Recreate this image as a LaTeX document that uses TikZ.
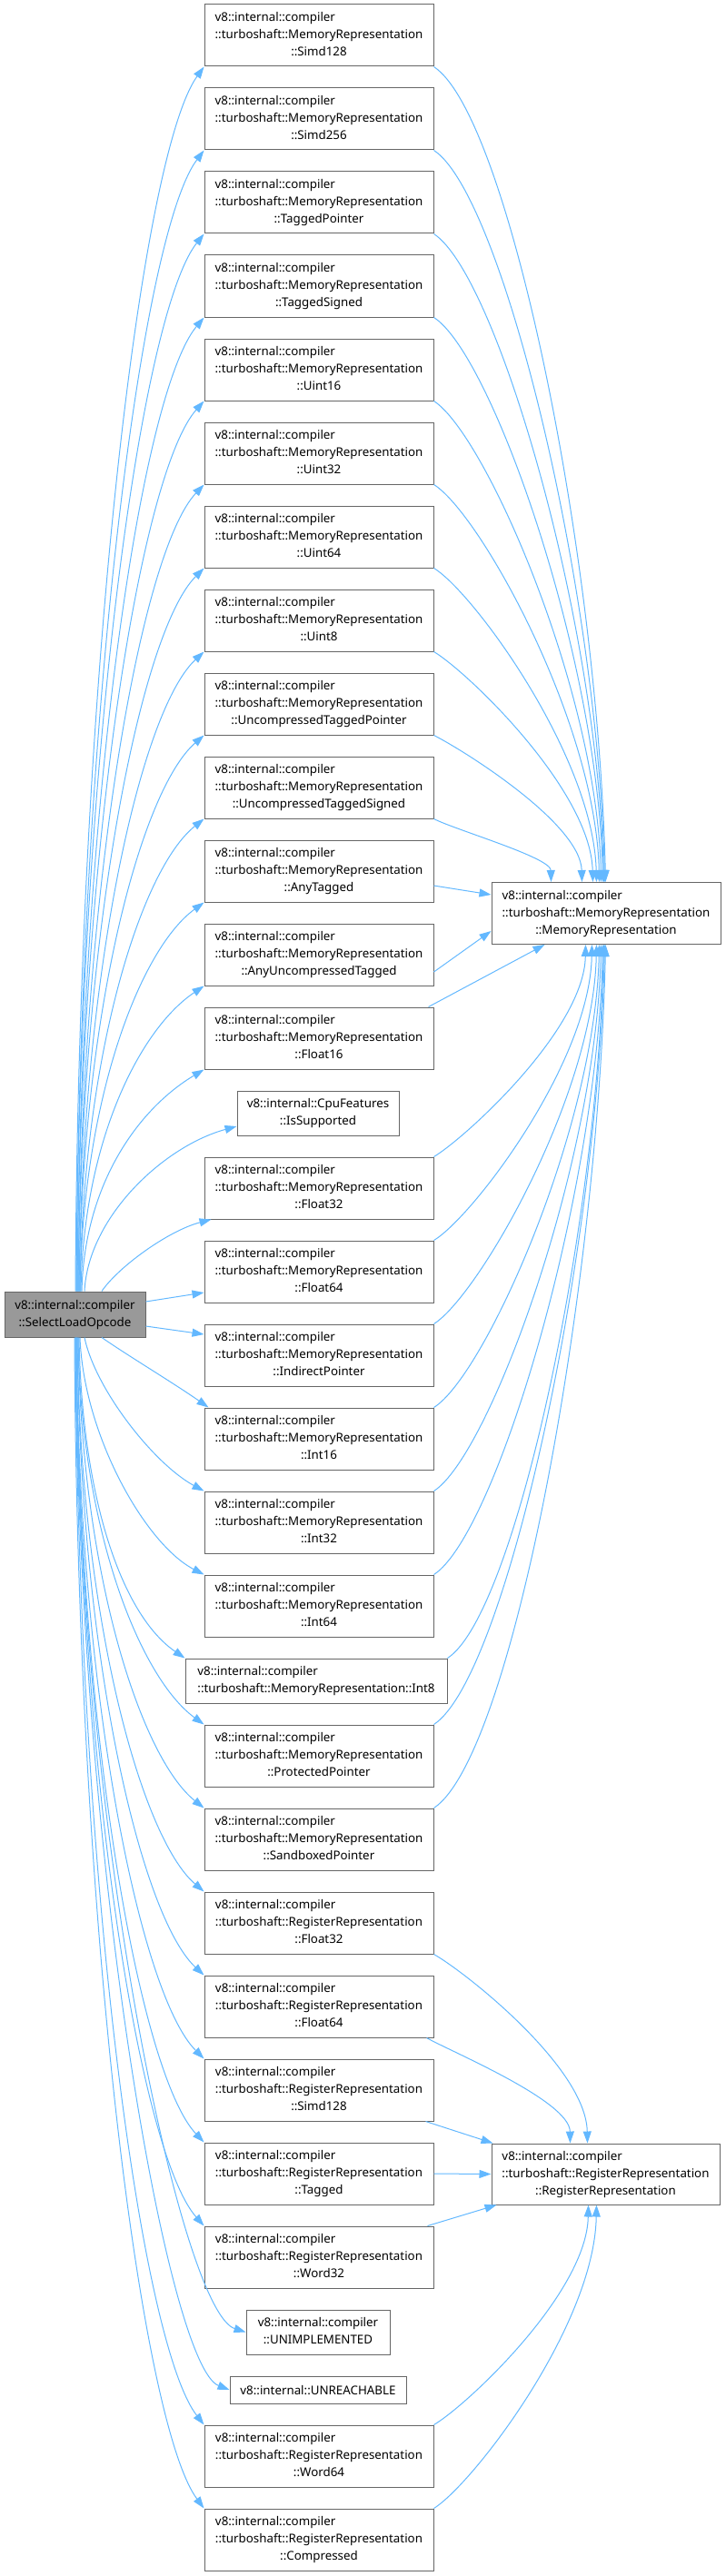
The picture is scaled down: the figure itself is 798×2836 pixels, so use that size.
\documentclass[tikz,border=0pt]{standalone}
\usepackage{fontspec}
\setmainfont{Noto Sans}
\usetikzlibrary{arrows.meta}
\definecolor{edgec}{HTML}{63B8FF}
\definecolor{boxc}{HTML}{666666}
\definecolor{mainfill}{HTML}{999999}
\newcommand{\dxfont}{\fontsize{13.33}{18.8}\selectfont}
\newcommand{\threelines}[3]{\begin{tabular}{@{}l@{}}#1\\#2\\\multicolumn{1}{@{}c@{}}{#3}\end{tabular}}
\newcommand{\twolines}[2]{\begin{tabular}{@{}l@{}}#1\\\multicolumn{1}{@{}c@{}}{#2}\end{tabular}}
\newcommand{\MR}[1]{\threelines{v8::internal::compiler}{::turboshaft::MemoryRepresentation}{::#1}}
\newcommand{\RR}[1]{\threelines{v8::internal::compiler}{::turboshaft::RegisterRepresentation}{::#1}}
\tikzset{
  box/.style={draw=boxc, fill=white, line width=1pt, inner sep=0pt, minimum width=252pt, minimum height=68pt, font=\dxfont},
  edge/.style={draw=edgec, line width=1pt, -{Triangle[length=13pt,width=9pt]}},
}
\begin{document}
\begin{tikzpicture}[x=1pt,y=1pt]
\useasboundingbox (0,0) rectangle (798,-2836);
% main
\node[box, fill=mainfill, minimum width=155pt, minimum height=50pt] (main) at (82.5,-1447) {\twolines{v8::internal::compiler}{::SelectLoadOpcode}};
% targets
\node[box] (mr) at (667,-1005.5) {\MR{MemoryRepresentation}};
\node[box, minimum width=251pt, minimum height=67pt] (rr) at (666.5,-2393.5) {\RR{RegisterRepresentation}};
% callees
\node[box] (m0) at (351,-39) {\MR{Simd128}};
\node[box] (m1) at (351,-131) {\MR{Simd256}};
\node[box] (m2) at (351,-223) {\MR{TaggedPointer}};
\node[box] (m3) at (351,-315) {\MR{TaggedSigned}};
\node[box] (m4) at (351,-407) {\MR{Uint16}};
\node[box] (m5) at (351,-499) {\MR{Uint32}};
\node[box] (m6) at (351,-591) {\MR{Uint64}};
\node[box] (m7) at (351,-683) {\MR{Uint8}};
\node[box] (m8) at (351,-775) {\MR{UncompressedTaggedPointer}};
\node[box] (m9) at (351,-867) {\MR{UncompressedTaggedSigned}};
\node[box] (m10) at (351,-959) {\MR{AnyTagged}};
\node[box] (m11) at (351,-1051) {\MR{AnyUncompressedTagged}};
\node[box] (m12) at (351,-1143) {\MR{Float16}};
\node[box, minimum width=178pt, minimum height=49pt] (cpu) at (350,-1225.5) {\twolines{v8::internal::CpuFeatures}{::IsSupported}};
\node[box] (mf32) at (351,-1308) {\MR{Float32}};
\node[box] (mf64) at (351,-1400) {\MR{Float64}};
\node[box] (mip) at (351,-1492) {\MR{IndirectPointer}};
\node[box] (mi16) at (351,-1584) {\MR{Int16}};
\node[box] (mi32) at (351,-1676) {\MR{Int32}};
\node[box] (mi64) at (351,-1768) {\MR{Int64}};
\node[box, minimum width=288pt, minimum height=49pt] (mi8) at (348,-1850.5) {\twolines{v8::internal::compiler}{::turboshaft::MemoryRepresentation::Int8}};
\node[box] (mpp) at (351,-1933) {\MR{ProtectedPointer}};
\node[box] (msp) at (351,-2025) {\MR{SandboxedPointer}};
\node[box] (rf32) at (351,-2117) {\RR{Float32}};
\node[box] (rf64) at (351,-2209) {\RR{Float64}};
\node[box] (rs128) at (351,-2301) {\RR{Simd128}};
\node[box] (rtag) at (351,-2393) {\RR{Tagged}};
\node[box] (rw32) at (351,-2485) {\RR{Word32}};
\node[box, minimum width=158pt, minimum height=49pt] (unimpl) at (350,-2567.5) {\twolines{v8::internal::compiler}{::UNIMPLEMENTED}};
\node[box, minimum width=194pt, minimum height=30pt] (unreach) at (350,-2631) {v8::internal::UNREACHABLE};
\node[box] (rw64) at (351,-2704) {\RR{Word64}};
\node[box] (rcomp) at (351,-2796) {\RR{Compressed}};
% edges main -> upper
\draw[edge] ([xshift=0.5pt]main.north) .. controls (86,-747) and (155,-170) .. (m0.south west);
\draw[edge] ([xshift=1.5pt]main.north) .. controls (87,-794) and (155,-258) .. (m1.south west);
\draw[edge] ([xshift=1.5pt]main.north) .. controls (87,-840) and (155,-345) .. (m2.south west);
\draw[edge] ([xshift=2.5pt]main.north) .. controls (88,-886) and (155,-433) .. (m3.south west);
\draw[edge] ([xshift=2.5pt]main.north) .. controls (88,-932) and (155,-520) .. (m4.south west);
\draw[edge] ([xshift=3.5pt]main.north) .. controls (89,-978) and (155,-607) .. (m5.south west);
\draw[edge] ([xshift=3.5pt]main.north) .. controls (89,-1024) and (155,-695) .. (m6.south west);
\draw[edge] ([xshift=4.5pt]main.north) .. controls (90,-1070) and (155,-782) .. (m7.south west);
\draw[edge] ([xshift=4.5pt]main.north) .. controls (90,-1116) and (155,-870) .. (m8.south west);
\draw[edge] ([xshift=5.5pt]main.north) .. controls (91,-1162) and (155,-957) .. (m9.south west);
\draw[edge] ([xshift=5.5pt]main.north) .. controls (91,-1208) and (155,-1044) .. (m10.south west);
\draw[edge] ([xshift=6.5pt]main.north) .. controls (92,-1254) and (155,-1132) .. (m11.south west);
\draw[edge] ([xshift=7.5pt]main.north) .. controls (93,-1300) and (155,-1219) .. (m12.south west);
\draw[edge] ([xshift=10.5pt]main.north) .. controls (97,-1340) and (180,-1262) .. ([yshift=-14.5pt]cpu.west);
\draw[edge] ([xshift=29.5pt]main.north) .. controls (130,-1395) and (185,-1355) .. ([xshift=8pt]mf32.south west);
\draw[edge] ([yshift=14pt]main.east) -- ([yshift=-23pt]mf64.west);
\draw[edge] ([yshift=-13pt]main.east) -- ([yshift=23pt]mip.west);
% edges main -> lower
\draw[edge] ([xshift=29.5pt]main.south) .. controls (140,-1492) and (190,-1522) .. ([xshift=5pt]mi16.north west);
\draw[edge] ([xshift=10.5pt]main.south) .. controls (105,-1530) and (170,-1612) .. (mi32.north west);
\draw[edge] ([xshift=5.5pt]main.south) .. controls (92,-1580) and (160,-1700) .. (mi64.north west);
\draw[edge] ([xshift=4.5pt]main.south) .. controls (90,-1649) and (134,-1778) .. (mi8.north west);
\draw[edge] ([xshift=3.5pt]main.south) .. controls (89,-1686) and (155,-1848) .. (mpp.north west);
\draw[edge] ([xshift=3.5pt]main.south) .. controls (89,-1732) and (155,-1935) .. (msp.north west);
\draw[edge] ([xshift=2.5pt]main.south) .. controls (88,-1778) and (155,-2023) .. (rf32.north west);
\draw[edge] ([xshift=2.5pt]main.south) .. controls (88,-1824) and (155,-2110) .. (rf64.north west);
\draw[edge] ([xshift=1.5pt]main.south) .. controls (87,-1870) and (155,-2197) .. (rs128.north west);
\draw[edge] ([xshift=1.5pt]main.south) .. controls (87,-1916) and (155,-2285) .. (rtag.north west);
\draw[edge] ([xshift=1.5pt]main.south) .. controls (87,-1962) and (155,-2372) .. (rw32.north west);
\draw[edge] ([xshift=0.5pt]main.south) .. controls (86,-2020) and (200,-2545) .. (unimpl.west);
\draw[edge] ([xshift=0.5pt]main.south) .. controls (86,-2051) and (185,-2605) .. (unreach.west);
\draw[edge] ([xshift=0.5pt]main.south) .. controls (86,-2071) and (155,-2580) .. (rw64.north west);
\draw[edge] ([xshift=-0.5pt]main.south) .. controls (85,-2117) and (155,-2668) .. (rcomp.north west);
% edges -> MemoryRepresentation
\draw[edge] (m0.south east) .. controls (560,-128) and (658,-612) .. ([xshift=126pt]mr.north west);
\draw[edge] (m1.south east) .. controls (553,-215) and (658,-649) .. ([xshift=125pt]mr.north west);
\draw[edge] (m2.south east) .. controls (547,-303) and (658,-686) .. ([xshift=124pt]mr.north west);
\draw[edge] (m3.south east) .. controls (541,-390) and (658,-723) .. ([xshift=123pt]mr.north west);
\draw[edge] (m4.south east) .. controls (534,-478) and (657,-760) .. ([xshift=121pt]mr.north west);
\draw[edge] (m5.south east) .. controls (528,-565) and (656,-796) .. ([xshift=119pt]mr.north west);
\draw[edge] (m6.south east) .. controls (521,-652) and (653,-833) .. ([xshift=116pt]mr.north west);
\draw[edge] (m7.south east) .. controls (515,-740) and (650,-870) .. ([xshift=112pt]mr.north west);
\draw[edge] (m8.south east) .. controls (512,-827) and (639,-907) .. ([xshift=100pt]mr.north west);
\draw[edge] (m9.south east) .. controls (502,-914) and (606,-944) .. ([xshift=66pt]mr.north west);
\draw[edge] ([yshift=-16pt]m10.east) -- ([yshift=20.5pt]mr.west);
\draw[edge] ([yshift=-19pt]m11.east) -- ([yshift=-19.5pt]mr.west);
\draw[edge] ([xshift=-6pt]m12.north east) -- ([xshift=59pt]mr.south west);
\draw[edge] (mf32.north east) .. controls (513,-1252) and (643,-1133) .. ([xshift=104pt]mr.south west);
\draw[edge] (mf64.north east) .. controls (520,-1340) and (649,-1170) .. ([xshift=111pt]mr.south west);
\draw[edge] (mip.north east) .. controls (526,-1427) and (653,-1207) .. ([xshift=116pt]mr.south west);
\draw[edge] (mi16.north east) .. controls (533,-1515) and (655,-1243) .. ([xshift=119pt]mr.south west);
\draw[edge] (mi32.north east) .. controls (539,-1602) and (656,-1280) .. ([xshift=121pt]mr.south west);
\draw[edge] (mi64.north east) .. controls (546,-1689) and (657,-1317) .. ([xshift=123pt]mr.south west);
\draw[edge] (mi8.north east) .. controls (567,-1777) and (657,-1354) .. ([xshift=124pt]mr.south west);
\draw[edge] (mpp.north east) .. controls (557,-1846) and (657,-1383) .. ([xshift=125pt]mr.south west);
\draw[edge] (msp.north east) .. controls (564,-1933) and (658,-1420) .. ([xshift=126pt]mr.south west);
% edges -> RegisterRepresentation
\draw[edge] (rf32.south east) .. controls (512,-2171) and (645,-2276) .. ([xshift=106pt]rr.north west);
\draw[edge] ([xshift=-8pt]rf64.south east) .. controls (497,-2259) and (627,-2313) .. ([xshift=87pt]rr.north west);
\draw[edge] ([xshift=-9pt]rs128.south east) -- ([xshift=2pt]rr.north west);
\draw[edge] (rtag.east) -- (rr.west);
\draw[edge] ([xshift=-7pt]rw32.north east) -- ([xshift=6pt]rr.south west);
\draw[edge] (rw64.north east) .. controls (514,-2648) and (646,-2524) .. ([xshift=107pt]rr.south west);
\draw[edge] (rcomp.north east) .. controls (520,-2735) and (654,-2561) .. ([xshift=116pt]rr.south west);
\end{tikzpicture}
\end{document}
